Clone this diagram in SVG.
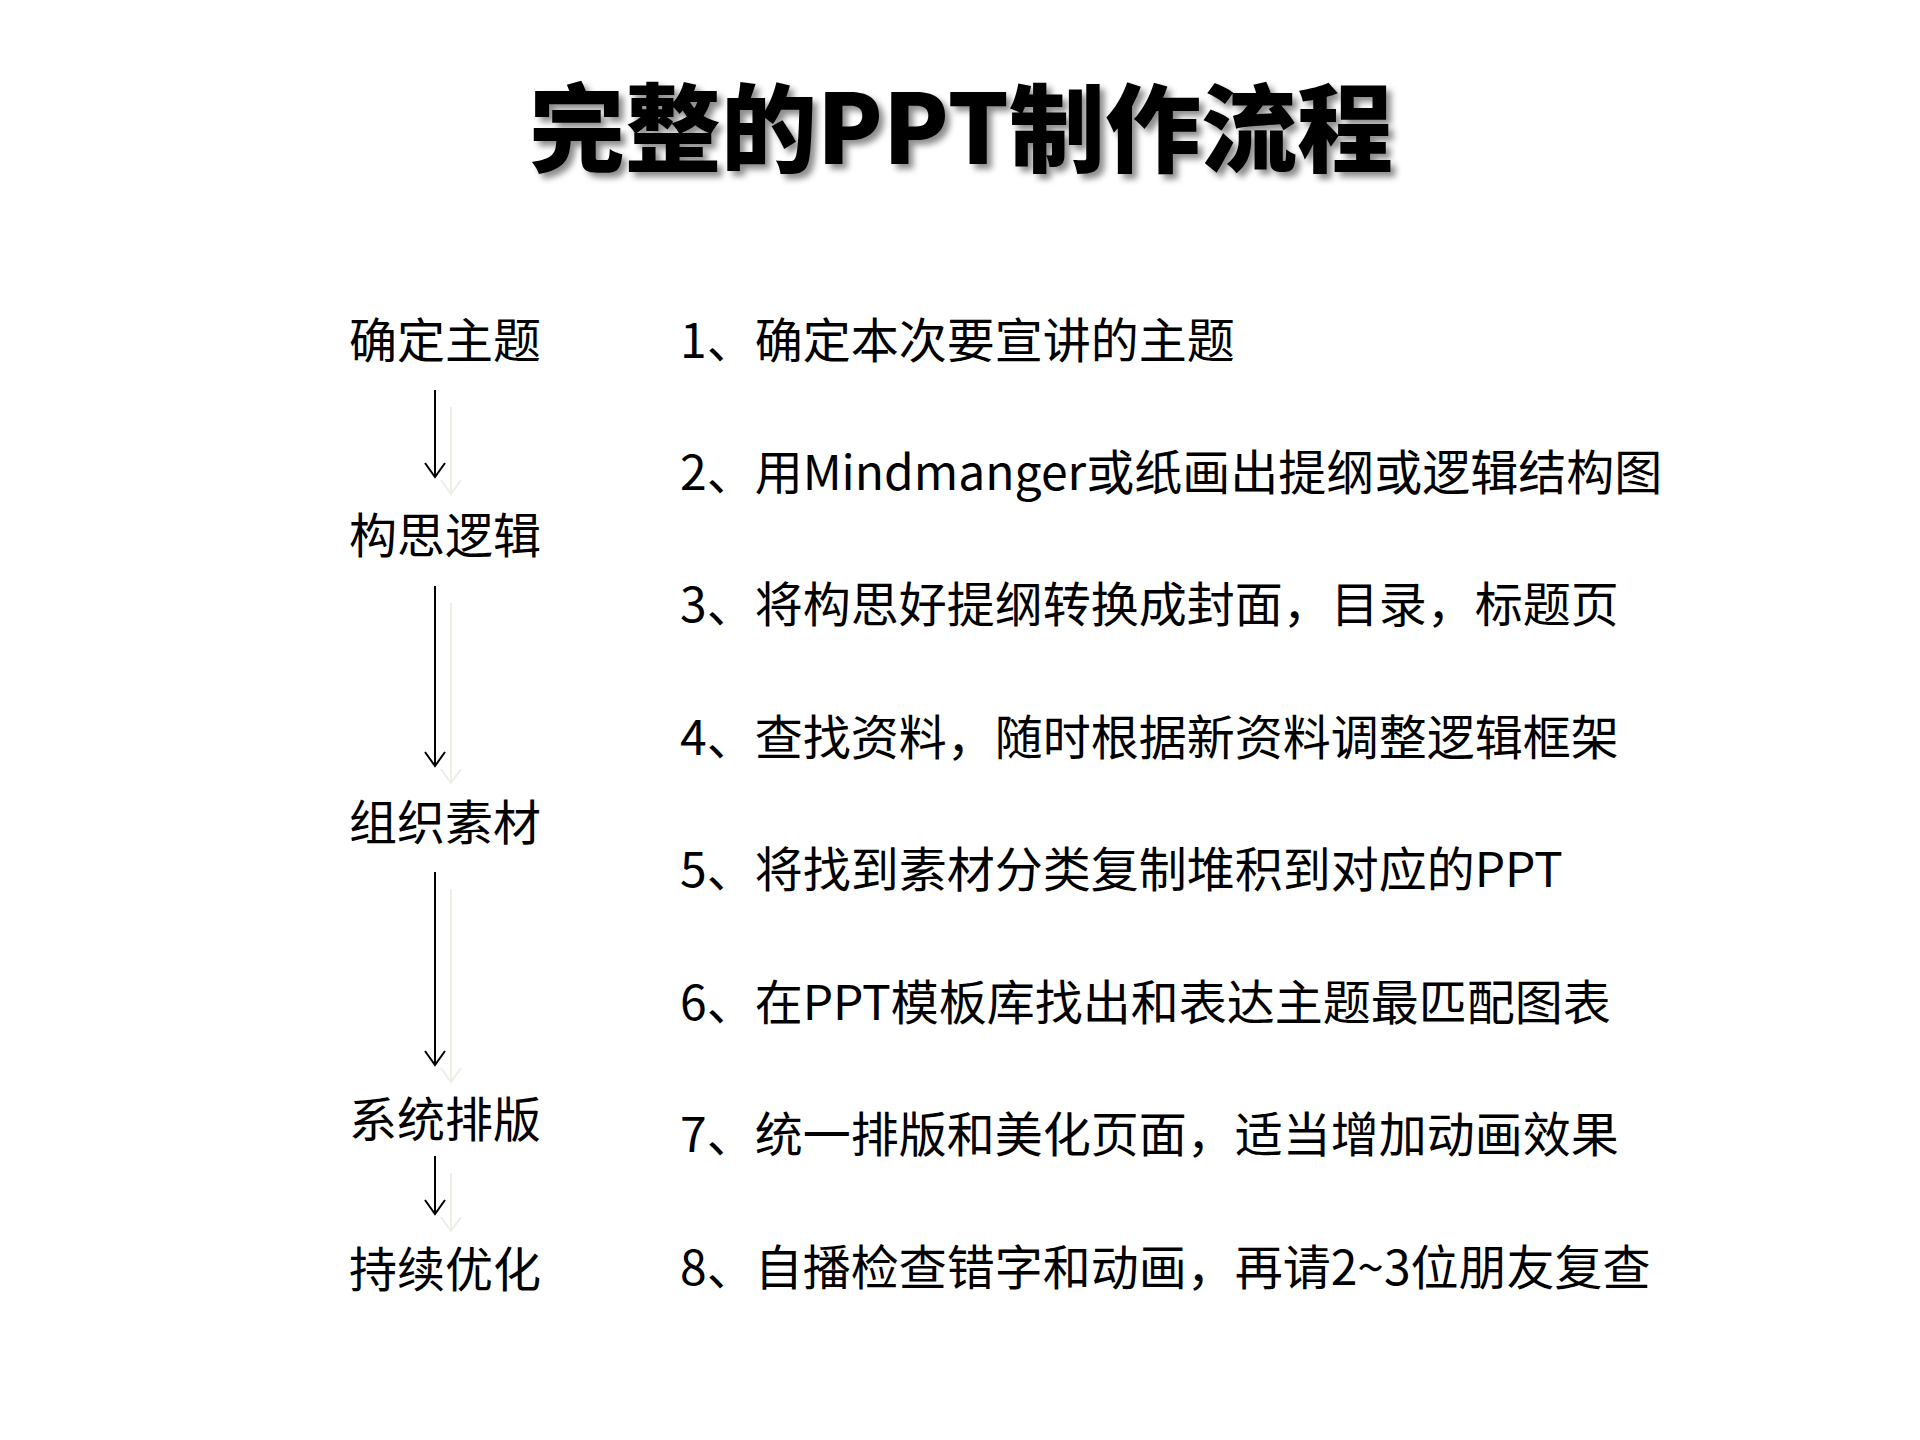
<svg xmlns="http://www.w3.org/2000/svg" width="1920" height="1440" viewBox="0 0 1920 1440">
<defs>
<style>
.t{font-family:"Noto Sans CJK SC","Microsoft YaHei",sans-serif;font-size:48px;fill:#000}
.l{font-family:"Noto Sans CJK SC","Microsoft YaHei",sans-serif;font-size:48px;fill:#000}
.h{font-family:"Noto Sans CJK SC",sans-serif;font-size:96px;font-weight:900;fill:#000}
.a{stroke:#000;stroke-width:2;fill:none}
.b{stroke:#eeeee4;stroke-width:2;fill:none}
</style>
<filter id="sh" x="-10%" y="-10%" width="120%" height="130%"><feDropShadow dx="5" dy="5" stdDeviation="3" flood-color="#000" flood-opacity="0.45"/></filter>
</defs>
<rect width="1920" height="1440" fill="#fff"/>
<text class="h" x="961" y="164" text-anchor="middle" filter="url(#sh)">完整的PPT制作流程</text>
<g id="n1"><text class="l" x="349" y="358">确定主题</text></g>
<g id="n2"><text class="l" x="349" y="553">构思逻辑</text></g>
<g id="n3"><text class="l" x="349" y="840">组织素材</text></g>
<g id="n4"><text class="l" x="349" y="1137">系统排版</text></g>
<g id="n5"><text class="l" x="349" y="1287">持续优化</text></g>
<g id="steps">
<text class="t" x="680" y="358">1、确定本次要宣讲的主题</text>
<text class="t" x="680" y="490">2、用Mindmanger或纸画出提纲或逻辑结构图</text>
<text class="t" x="680" y="622">3、将构思好提纲转换成封面，目录，标题页</text>
<text class="t" x="680" y="755">4、查找资料，随时根据新资料调整逻辑框架</text>
<text class="t" x="680" y="887">5、将找到素材分类复制堆积到对应的PPT</text>
<text class="t" x="680" y="1020">6、在PPT模板库找出和表达主题最匹配图表</text>
<text class="t" x="680" y="1152">7、统一排版和美化页面，适当增加动画效果</text>
<text class="t" x="680" y="1285">8、自播检查错字和动画，再请2~3位朋友复查</text>
</g>
<g id="connectors">
<path class="b" d="M451 407V494M441 480L451 494L461 480"/>
<path class="a" d="M435 390V477M425 463L435 477L445 463"/>
<path class="b" d="M451 603V783M441 769L451 783L461 769"/>
<path class="a" d="M435 586V766M425 752L435 766L445 752"/>
<path class="b" d="M451 889V1082M441 1068L451 1082L461 1068"/>
<path class="a" d="M435 872V1065M425 1051L435 1065L445 1051"/>
<path class="b" d="M451 1173V1231M441 1217L451 1231L461 1217"/>
<path class="a" d="M435 1156V1214M425 1200L435 1214L445 1200"/>
</g>
</svg>
